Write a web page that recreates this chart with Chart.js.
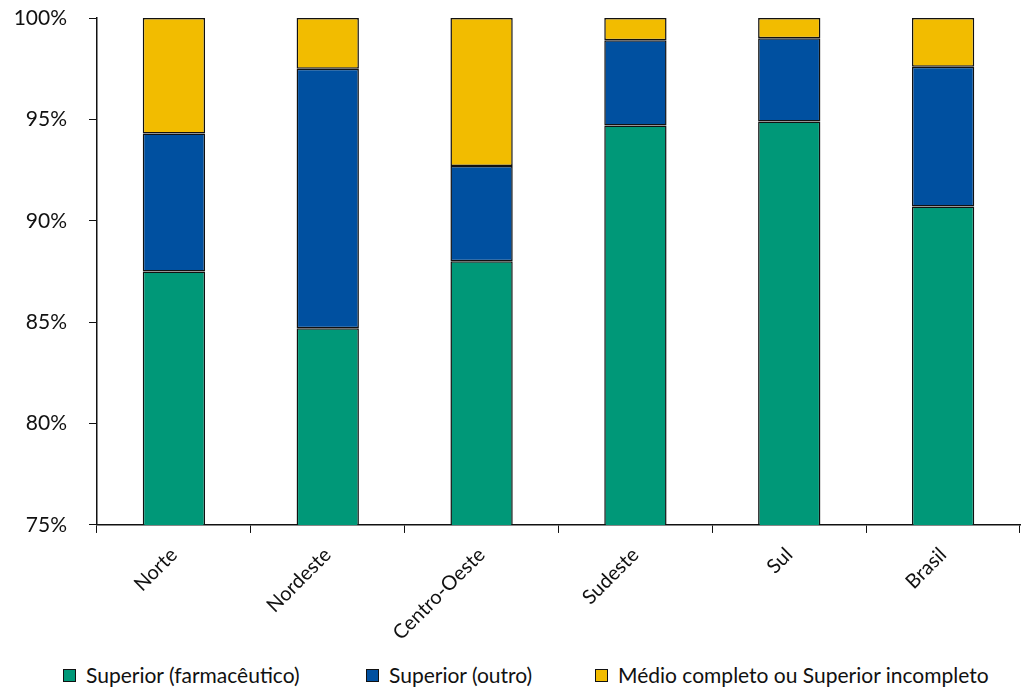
<!DOCTYPE html>
<html>
<head>
<meta charset="utf-8">
<script src="https://cdn.jsdelivr.net/npm/chart.js@4.4.1/dist/chart.umd.min.js"></script>
<style>
  html, body { margin: 0; padding: 0; background: #fff; }
  #wrap { position: relative; width: 1028px; height: 688px; }
  #chart { position: absolute; left: 0; top: 0; }
  #legend { position: absolute; left: 0; top: 661px; width: 1028px; height: 27px;
            font-family: 'Lato', 'Open Sans', sans-serif; font-size: 21px; color: #111; }
  .item { position: absolute; top: 0; white-space: nowrap; line-height: 27px; }
  .box { display: inline-block; width: 11px; height: 11px; border: 1px solid #111;
         vertical-align: middle; margin-right: 10px; position: relative; top: -2px; }
</style>
</head>
<body>
<div id="wrap">
  <canvas id="chart" width="1028" height="655"></canvas>
  <div id="legend"></div>
</div>
<script>
// Regions and stacked shares (%)
const regions = ["Norte", "Nordeste", "Centro-Oeste", "Sudeste", "Sul", "Brasil"];
const superiorFarmaceutico = [87.5, 84.7, 88.0, 94.7, 94.9, 90.7];
const superiorOutro = [6.8, 12.8, 4.7, 4.2, 4.1, 6.9];
const medioOuSuperiorIncompleto = [5.7, 2.5, 7.3, 1.1, 1.0, 2.4];
const yTicks = [75, 80, 85, 90, 95, 100];

const FONT = "'Lato', 'Open Sans', sans-serif";
const COLORS = { green: "#009878", blue: "#0050a0", yellow: "#f2bc00" };
const LEGEND_X = [63, 366, 595];

function barSet(label, data, color) {
  return {
    label: label,
    data: data,
    backgroundColor: color,
    borderColor: "#111",
    borderWidth: 1.5,
    borderSkipped: false,
    barPercentage: 0.405,
    categoryPercentage: 1
  };
}

const chart = new Chart(document.getElementById("chart"), {
  type: "bar",
  data: {
    labels: regions,
    datasets: [
      barSet("Superior (farmacêutico)", superiorFarmaceutico, COLORS.green),
      barSet("Superior (outro)", superiorOutro, COLORS.blue),
      barSet("Médio completo ou Superior incompleto", medioOuSuperiorIncompleto, COLORS.yellow)
    ]
  },
  options: {
    responsive: false,
    animation: false,
    layout: { padding: { top: 0, right: 8, left: 0, bottom: 0 } },
    plugins: {
      tooltip: { enabled: false },
      legend: { display: false }
    },
    scales: {
      x: {
        stacked: true,
        grid: { display: true, drawOnChartArea: false, drawTicks: true, tickLength: 8, color: "#111", offset: true },
        border: { display: true, color: "#111", width: 1.5 },
        ticks: {
          font: { family: FONT, size: 20 },
          color: "#111",
          maxRotation: 45,
          minRotation: 45,
          padding: 10
        }
      },
      y: {
        stacked: true,
        min: 75,
        max: 100,
        afterBuildTicks: (axis) => { axis.ticks = yTicks.map((v) => ({ value: v })); },
        afterFit: (scale) => {
          scale.paddingTop = 18;
          scale.paddingBottom = 12;
          scale.width = 97;
        },
        grid: { display: true, drawOnChartArea: false, drawTicks: true, tickLength: 8, color: "#111" },
        border: { display: true, color: "#111", width: 1.5 },
        ticks: {
          font: { family: FONT, size: 21 },
          color: "#111",
          padding: 22,
          callback: (v) => v + "%"
        }
      }
    }
  }
});

// HTML legend under the plot
const legendEl = document.getElementById("legend");
chart.data.datasets.forEach((ds, i) => {
  const item = document.createElement("div");
  item.className = "item";
  item.style.left = LEGEND_X[i] + "px";
  const box = document.createElement("span");
  box.className = "box";
  box.style.background = ds.backgroundColor;
  item.appendChild(box);
  item.appendChild(document.createTextNode(ds.label));
  legendEl.appendChild(item);
});
</script>
</body>
</html>
